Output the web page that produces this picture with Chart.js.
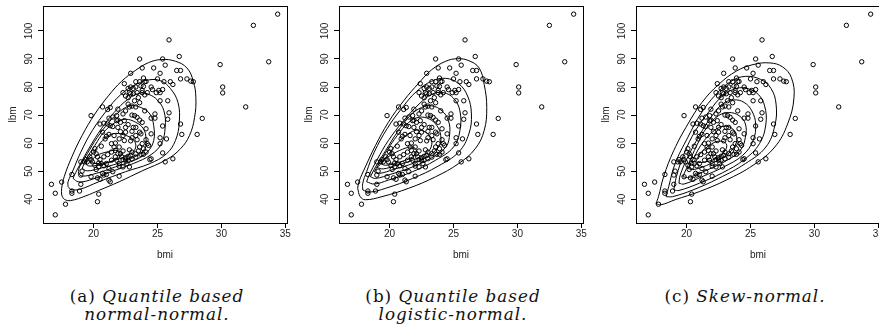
<!DOCTYPE html>
<html>
<head>
<meta charset="utf-8">
<script src="https://cdn.jsdelivr.net/npm/chart.js@4.4.1/dist/chart.umd.min.js"></script>
<style>
  body { margin: 0; width: 879px; height: 336px; overflow: hidden; background: #fff; position: relative; }
  .panel { position: absolute; top: 0; width: 296px; height: 270px; }
  .cap { position: absolute; top: 287px; width: 296px; text-align: center; letter-spacing: 1px;
         font-family: "DejaVu Serif", serif; font-size: 16.8px; line-height: 18px; color: #111; }
  .cap i { font-style: italic; }
</style>
</head>
<body>
<canvas id="pa" class="panel" width="296" height="270" style="left:0px"></canvas>
<canvas id="pb" class="panel" width="296" height="270" style="left:296px"></canvas>
<canvas id="pc" class="panel" width="296" height="270" style="left:593px"></canvas>
<div class="cap" style="left:9px">(a) <i>Quantile based<br>normal-normal.</i></div>
<div class="cap" style="left:305px">(b) <i>Quantile based<br>logistic-normal.</i></div>
<div class="cap" style="left:597px">(c) <i>Skew-normal.</i></div>
<script>
// --- Data ---
const xTicks = [20, 25, 30, 35];
const yTicks = [40, 50, 60, 70, 80, 90, 100];

const bmi = [34.4, 32.5, 33.7, 29.9, 30.1, 30.1, 31.9, 28.5, 28.1, 26.9, 26.8, 25.9, 26.7, 26.8, 26.5, 26.8, 27.3, 27.6, 27.8, 25.6,
  25.4, 23.6, 23.8, 24.7, 22.9, 25.2, 25.0, 25.5, 26.0, 26.2, 23.3, 23.6, 24.0, 23.3, 24.5, 24.6, 25.1, 25.2, 25.4, 24.9,
  25.8, 25.2, 25.9, 25.8, 25.4, 25.7, 25.2, 25.2, 25.4, 25.6, 26.2, 24.5, 24.4, 24.5, 24.5, 24.8, 24.0, 16.7, 17.0, 17.0,
  17.5, 17.8, 18.3, 18.3, 18.3, 18.9, 19.8, 20.3, 20.4, 20.7, 19.0, 19.0, 19.1, 19.0, 19.3, 19.5, 19.4, 19.8, 19.7, 19.9,
  20.1, 20.0, 20.2, 20.1, 20.2, 19.8, 20.3, 20.5, 20.7, 20.8, 21.0, 21.2, 21.3, 20.4, 20.8, 21.0, 21.4, 21.7, 21.9, 20.6,
  20.9, 21.0, 21.2, 20.7, 20.5, 20.8, 21.1, 21.3, 21.5, 21.2, 21.1, 21.3, 21.6, 21.7, 21.6, 21.4, 21.8, 21.9, 21.8, 21.9,
  22.3, 22.1, 22.0, 22.0, 22.1, 22.2, 22.0, 22.0, 22.4, 22.3, 22.5, 22.5, 22.7, 22.4, 22.5, 22.3, 22.4, 22.7, 22.8, 22.5,
  22.7, 22.9, 23.1, 23.4, 22.9, 23.1, 22.7, 22.8, 23.0, 23.3, 23.6, 23.2, 23.5, 23.8, 24.0, 23.8, 23.9, 24.2, 23.0, 23.2,
  23.4, 23.6, 23.8, 23.1, 23.0, 23.3, 23.6, 23.7, 23.3, 23.0, 23.4, 24.1, 24.1, 24.2, 24.3, 23.9, 23.6, 23.5, 23.3, 23.0,
  22.8, 22.9, 22.7, 22.5, 22.3, 22.5, 22.7, 22.6, 22.8, 23.0, 23.3, 23.7, 23.9, 24.1, 23.8, 22.9, 22.3, 21.7, 21.4, 21.1,
  20.8, 20.5, 20.3, 21.8, 22.0, 22.3, 20.4, 20.6, 21.2, 21.5, 22.1, 21.5, 21.9, 23.9, 24.1, 23.7, 24.8];
const lbm = [106, 102, 89, 88, 80, 77.9, 72.9, 68.8, 63.1, 63.1, 66.8, 96.8, 90.9, 85.9, 85.9, 82.9, 82.9, 82.1, 81.9, 87.8,
  90, 90, 86.8, 86.8, 84.9, 84.9, 82.9, 81.9, 81.9, 80.9, 81.9, 81.9, 81.9, 80, 80, 79.1, 78.8, 78, 79.1, 78,
  75.1, 75.1, 70.8, 68.5, 66.1, 61.5, 61.9, 59.8, 56.5, 53.3, 54.4, 54.4, 54.1, 63.3, 68.9, 68.9, 71.5, 45.3, 42.1, 34.4,
  46.1, 38.2, 48.8, 42.9, 42.1, 42.9, 69.8, 39.1, 41.8, 72.9, 45.3, 48.6, 50.0, 53.3, 53.3, 53.3, 54.1, 54.1, 55.1, 53.3,
  58.0, 56.8, 56.2, 52.1, 50.6, 48.0, 47.6, 47.1, 49.2, 48.6, 48.8, 46.8, 46.2, 51.5, 51.9, 52.7, 53.9, 55.1, 56.2, 58.9,
  61.5, 62.4, 63.1, 63.9, 66.8, 67.1, 66.8, 66.2, 65.9, 68.9, 72.0, 72.7, 62.7, 60.0, 58.6, 59.8, 68.0, 68.2, 69.8, 72.1,
  70.4, 64.1, 61.5, 58.6, 56.2, 55.1, 51.8, 48.2, 60.9, 62.7, 63.9, 65.6, 66.6, 68.0, 71.5, 78.0, 81.2, 79.5, 78.0, 76.8,
  76.2, 77.6, 77.6, 78.0, 80.0, 79.5, 73.9, 72.9, 73.2, 72.9, 74.4, 75.1, 76.2, 78.0, 77.2, 78.8, 80.2, 78.0, 70.0, 69.8,
  69.2, 68.2, 67.4, 65.6, 64.2, 65.6, 63.9, 63.3, 62.7, 61.9, 61.2, 65.1, 61.2, 59.8, 59.2, 58.0, 58.6, 57.2, 56.2, 56.8,
  57.6, 55.6, 55.3, 54.8, 54.1, 53.9, 53.9, 52.7, 51.5, 54.4, 55.0, 56.0, 56.0, 56.8, 59.8, 60.8, 57.2, 57.4, 56.8, 55.9,
  55.1, 54.1, 55.1, 53.9, 52.7, 51.5, 52.9, 52.7, 50.9, 49.8, 67.4, 69.3, 65.6, 83.2, 82.0, 80.4, 70.4];

// density contours, [bmi, lbm] pairs (outer -> inner)
const contoursA = [
  [[17.5,41.5],[17.7,40.0],[18.2,39.5],[19.4,41.2],[20.4,43.1],[22.0,46.2],[23.8,50.1],[25.7,54.1],[26.8,58.0],[27.5,62.7],[27.9,69.2],[28.0,76.2],[27.8,82.1],[27.3,86.8],[26.4,89.2],[25.3,89.8],[24.3,88.7],[23.3,86.0],[22.2,82.1],[21.2,77.1],[20.1,70.4],[19.1,62.7],[18.3,55.1],[17.7,48.0],[17.5,43.9],[17.5,41.5]],
  [[18.0,44.5],[18.2,43.5],[18.9,43.5],[20.4,46.2],[22.5,49.8],[24.4,52.7],[25.7,56.2],[26.4,60.9],[26.7,67.4],[26.6,74.5],[26.0,79.5],[25.3,82.1],[24.4,82.6],[23.3,80.9],[22.1,77.2],[21.0,71.5],[19.9,64.5],[19.0,56.8],[18.4,50.4],[18.0,46.2],[18.0,44.5]],
  [[18.4,47.4],[18.8,46.2],[19.7,46.8],[21.2,49.5],[23.1,52.7],[24.5,55.9],[25.3,59.8],[25.6,65.7],[25.5,71.5],[25.0,75.3],[24.3,77.4],[23.6,77.8],[22.7,75.7],[21.6,70.9],[20.6,65.1],[19.7,58.6],[18.9,52.1],[18.5,48.6],[18.4,47.4]],
  [[18.8,49.2],[19.1,48.2],[20.2,49.2],[21.7,51.5],[23.3,54.1],[24.2,56.8],[24.7,60.9],[24.7,66.2],[24.4,70.4],[23.7,72.7],[22.9,73.3],[22.1,71.5],[21.2,67.4],[20.3,62.1],[19.5,56.2],[18.9,51.5],[18.8,49.2]],
  [[19.1,50.9],[19.5,50.1],[20.4,50.9],[22.0,52.9],[23.3,55.3],[24.0,58.0],[24.1,61.5],[23.9,65.1],[23.3,67.4],[22.5,68.5],[21.7,67.4],[20.8,63.9],[20.1,59.2],[19.4,54.1],[19.1,50.9]],
  [[19.4,52.4],[19.7,51.8],[20.7,52.5],[22.0,54.4],[22.9,56.2],[23.3,58.6],[23.1,61.2],[22.4,62.9],[21.5,63.3],[20.7,60.9],[20.1,57.4],[19.5,54.1],[19.4,52.4]],
  [[19.7,53.3],[20.2,52.7],[21.2,53.3],[22.0,54.8],[22.2,56.5],[21.7,57.4],[21.0,56.8],[20.3,55.7],[19.9,54.2],[19.7,53.3]]
];
const contoursB = [
  [[17.5,43.9],[17.7,40.9],[18.1,39.8],[19.4,40.9],[21.5,43.9],[23.6,48.0],[25.4,52.7],[26.7,58.0],[27.4,64.5],[27.6,72.7],[27.4,80.9],[27.0,86.8],[26.2,89.4],[25.3,90.1],[24.4,89.2],[23.3,86.2],[22.3,81.5],[21.1,75.1],[19.9,67.4],[18.9,59.2],[18.1,51.5],[17.6,46.2],[17.5,43.9]],
  [[17.9,43.3],[18.4,42.5],[19.7,43.9],[21.8,47.4],[23.8,51.8],[25.4,56.8],[26.2,63.3],[26.4,70.4],[26.1,76.8],[25.4,81.2],[24.4,83.1],[23.3,82.1],[22.1,78.4],[21.0,72.7],[19.8,65.1],[18.8,56.8],[18.2,49.8],[17.9,45.7],[17.9,43.3]],
  [[18.2,46.2],[18.8,45.4],[19.9,46.8],[21.8,49.8],[23.6,53.9],[25.0,58.6],[25.5,64.5],[25.5,71.5],[25.0,76.0],[24.2,78.0],[23.3,77.4],[22.3,73.9],[21.1,68.0],[19.9,60.9],[19.0,53.9],[18.4,48.6],[18.2,46.2]],
  [[18.5,48.0],[18.9,47.4],[20.1,48.9],[21.8,51.5],[23.3,54.8],[24.4,58.6],[24.7,63.3],[24.6,68.0],[24.1,71.5],[23.3,73.3],[22.5,72.7],[21.6,69.8],[20.6,63.9],[19.7,57.4],[18.9,51.5],[18.5,48.0]],
  [[18.8,49.8],[19.2,49.2],[20.3,50.6],[21.9,52.9],[23.2,56.0],[23.9,59.2],[24.0,62.7],[23.7,66.2],[23.1,68.6],[22.3,69.2],[21.5,67.4],[20.6,62.7],[19.8,57.4],[19.1,52.1],[18.8,49.8]],
  [[19.0,51.3],[19.5,50.8],[20.4,51.9],[21.8,53.9],[22.9,56.5],[23.3,59.5],[23.1,62.7],[22.5,64.5],[21.8,64.2],[20.8,60.9],[19.9,56.0],[19.3,52.5],[19.0,51.3]],
  [[19.3,52.7],[19.7,52.1],[20.7,53.1],[21.8,55.1],[22.1,57.2],[21.8,58.6],[21.0,57.8],[20.1,55.7],[19.5,53.9],[19.3,52.7]]
];
const contoursC = [
  [[17.6,38.4],[18.0,38.0],[19.1,39.8],[21.0,42.7],[23.1,46.8],[25.2,52.1],[26.9,58.6],[27.9,66.8],[28.4,76.2],[28.2,83.3],[27.5,87.2],[26.5,88.6],[25.2,88.0],[23.9,85.7],[22.5,80.9],[21.2,74.5],[20.1,66.8],[19.0,57.4],[18.2,48.0],[17.8,40.9],[17.6,38.4]],
  [[18.4,40.9],[18.9,40.9],[20.5,43.3],[22.5,47.4],[24.6,52.7],[26.2,58.6],[26.9,66.2],[27.0,73.9],[26.6,79.5],[25.8,82.7],[24.6,83.8],[23.5,82.1],[22.3,77.4],[21.1,70.4],[20.1,62.1],[19.1,52.7],[18.6,44.5],[18.4,40.9]],
  [[19.0,43.3],[19.4,43.1],[21.0,45.7],[22.8,49.4],[24.5,54.1],[25.7,59.8],[26.2,66.8],[26.1,73.3],[25.6,77.4],[24.8,79.4],[23.9,79.5],[22.8,76.8],[21.8,71.5],[20.7,64.5],[19.8,56.2],[19.2,48.0],[19.0,43.3]],
  [[19.4,45.7],[19.8,45.4],[21.2,48.0],[22.9,51.5],[24.4,55.7],[25.2,60.9],[25.4,66.8],[25.1,71.5],[24.5,74.5],[23.7,75.4],[22.8,73.9],[21.9,69.2],[21.0,62.7],[20.1,55.1],[19.5,48.6],[19.4,45.7]],
  [[19.7,48.0],[20.2,47.8],[21.6,50.4],[23.1,53.7],[24.2,57.4],[24.6,62.1],[24.6,66.8],[24.1,69.8],[23.3,70.9],[22.5,69.8],[21.6,65.7],[20.8,59.2],[20.1,52.1],[19.7,48.0]],
  [[20.1,50.9],[20.6,50.6],[21.9,52.7],[23.1,55.7],[23.8,59.2],[23.9,62.7],[23.5,65.4],[22.8,65.9],[22.0,63.9],[21.2,59.8],[20.6,55.1],[20.1,50.9]],
  [[20.7,53.3],[21.2,53.1],[22.3,54.5],[23.0,57.2],[23.1,59.8],[22.5,60.7],[21.8,59.2],[21.1,56.5],[20.7,53.3]]
];

// --- Chart helpers ---
const axisFont = { family: "'Liberation Sans', Arial, sans-serif", size: 10 };

const boxPlugin = {
  id: 'box',
  afterDraw(chart) {
    const { ctx, chartArea: a } = chart;
    ctx.save();
    ctx.strokeStyle = '#000';
    ctx.lineWidth = 1;
    ctx.strokeRect(Math.round(a.left) + 0.5, Math.round(a.top) + 0.5, Math.round(a.right - a.left), Math.round(a.bottom - a.top));
    ctx.restore();
  }
};

function makePanel(id, contours) {
  const datasets = contours.map(c => ({
    data: c.map(p => ({ x: p[0], y: p[1] })),
    showLine: true, fill: false, tension: 0.4,
    borderColor: '#000', borderWidth: 1, pointRadius: 0
  }));
  datasets.push({
    data: bmi.map((b, i) => ({ x: b, y: lbm[i] })),
    showLine: false, pointStyle: 'circle', pointRadius: 2.2,
    borderColor: '#000', borderWidth: 1, backgroundColor: 'rgba(0,0,0,0)'
  });

  return new Chart(document.getElementById(id), {
    type: 'scatter',
    data: { datasets },
    options: {
      responsive: false, animation: false, devicePixelRatio: 1,
      layout: { padding: { left: 0, top: 5, right: 9, bottom: 0 } },
      plugins: { legend: { display: false }, tooltip: { enabled: false } },
      scales: {
        x: {
          type: 'linear', min: 16.04, max: 35.13,
          afterBuildTicks: s => { s.ticks = xTicks.map(v => ({ value: v })); },
          afterFit: s => { s.height = 47; },
          ticks: { font: axisFont, color: '#222', padding: 0, maxRotation: 0 },
          grid: { drawOnChartArea: false, tickLength: 5, color: '#000' },
          border: { color: '#000' },
          title: { display: true, text: 'bmi', font: axisFont, color: '#222', padding: { top: 0, bottom: 9 } }
        },
        y: {
          type: 'linear', min: 31.5, max: 108.9,
          afterBuildTicks: s => { s.ticks = yTicks.map(v => ({ value: v })); },
          afterFit: s => { s.width = 43; },
          ticks: { font: axisFont, color: '#222', padding: 0, minRotation: 90, maxRotation: 90, crossAlign: 'center' },
          grid: { drawOnChartArea: false, tickLength: 5, color: '#000' },
          border: { color: '#000' },
          title: { display: true, text: 'lbm', font: axisFont, color: '#222', padding: { top: 7, bottom: 0 } }
        }
      }
    },
    plugins: [boxPlugin]
  });
}

makePanel('pa', contoursA);
makePanel('pb', contoursB);
makePanel('pc', contoursC);
</script>
</body>
</html>
